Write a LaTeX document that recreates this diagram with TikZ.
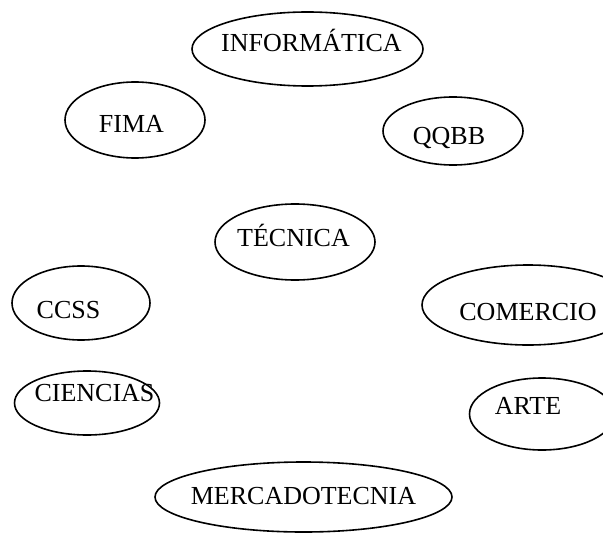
\documentclass[tikz,border=0pt]{standalone}
\usepackage{fontspec}
\setmainfont{Liberation Serif}
\usetikzlibrary{shapes.geometric}
\tikzset{
  oval/.style={draw, ellipse, line width=0.8pt, inner sep=0pt},
  txt/.style={font=\fontsize{13}{15}\selectfont, text height=8.6pt, text depth=0pt, inner sep=0pt}
}
\begin{document}
\begin{tikzpicture}[x=0.5pt,y=-0.5pt]
\useasboundingbox (0,0) rectangle (603,534);
\node[oval, minimum width=115.5pt, minimum height=37pt,
  label={[txt, xshift=2pt, yshift=3pt]center:INFORMÁTICA}] (info) at (307.5,49) {};
\node[oval, minimum width=70pt, minimum height=38pt,
  label={[txt, xshift=-1.75pt, yshift=-2pt]center:FIMA}] (fima) at (135,120) {};
\node[oval, minimum width=70pt, minimum height=34pt,
  label={[txt, xshift=-2pt, yshift=-2.5pt]center:QQBB}] (qqbb) at (453,131) {};
\node[oval, minimum width=80pt, minimum height=38pt,
  label={[txt, xshift=-0.75pt, yshift=2pt]center:TÉCNICA}] (tecnica) at (295,242) {};
\node[oval, minimum width=69pt, minimum height=37pt,
  label={[txt, xshift=-6.25pt, yshift=-3.5pt]center:CCSS}] (ccss) at (81,303) {};
\node[oval, minimum width=106pt, minimum height=40pt,
  label={[txt, xshift=0pt, yshift=-3.5pt]center:COMERCIO}] (comercio) at (528,305) {};
\node[oval, minimum width=72.5pt, minimum height=32pt,
  label={[txt, xshift=3.75pt, yshift=5pt]center:CIENCIAS}] (ciencias) at (87,403) {};
\node[oval, minimum width=72.5pt, minimum height=36pt,
  label={[txt, xshift=-7pt, yshift=4pt]center:ARTE}] (arte) at (542,414) {};
\node[oval, minimum width=148.5pt, minimum height=35pt,
  label={[txt, xshift=0pt, yshift=0.5pt]center:MERCADOTECNIA}] (merca) at (303.5,497) {};
\end{tikzpicture}
\end{document}
